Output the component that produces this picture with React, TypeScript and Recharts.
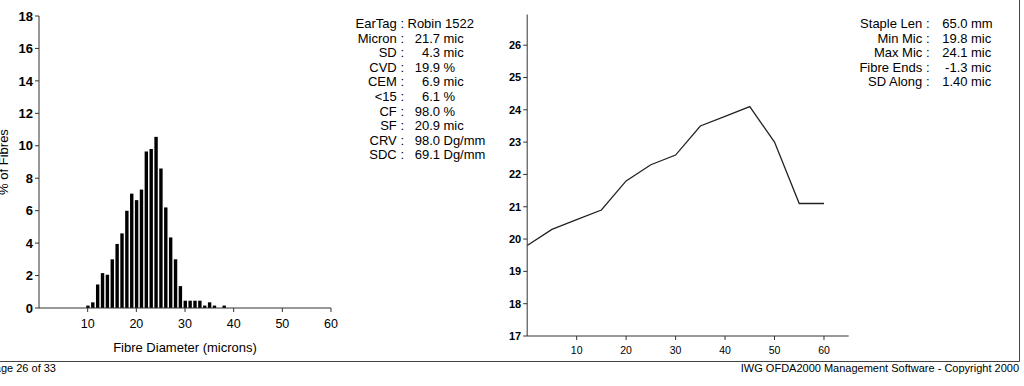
import { Bar, BarChart, Label, Line, LineChart, XAxis, YAxis } from "recharts";

const FONT = "'Liberation Sans', Arial, Helvetica, sans-serif";

// histogram: % of fibres per 1 micron class
const diameters = [10, 11, 12, 13, 14, 15, 16, 17, 18, 19, 20, 21, 22, 23, 24, 25, 26, 27, 28, 29, 30, 31, 32, 33, 34, 35, 36, 37, 38];
const fibrePct = [0.15, 0.35, 1.45, 2.15, 2.05, 3.0, 3.95, 4.6, 6.0, 7.05, 6.65, 7.3, 9.65, 9.8, 10.55, 8.6, 6.2, 4.35, 3.0, 1.35, 0.45, 0.45, 0.45, 0.45, 0.15, 0.35, 0.15, 0, 0.15];
const diameterTicks = [10, 20, 30, 40, 50, 60];
const pctTicks = [0, 2, 4, 6, 8, 10, 12, 14, 16, 18];

// profile along the staple (mm -> mic)
const staplePos = [0, 5, 10, 15, 20, 25, 30, 35, 40, 45, 50, 55, 60];
const micAlong = [19.8, 20.3, 20.6, 20.9, 21.8, 22.3, 22.6, 23.5, 23.8, 24.1, 23.0, 21.1, 21.1];
const staplePosTicks = [10, 20, 30, 40, 50, 60];
const micTicks = [17, 18, 19, 20, 21, 22, 23, 24, 25, 26];

const earTag = "Robin 1522";
const sampleLabels = ["Micron", "SD", "CVD", "CEM", "<15", "CF", "SF", "CRV", "SDC"];
const sampleValues = ["21.7", "4.3", "19.9", "6.9", "6.1", "98.0", "20.9", "98.0", "69.1"];
const sampleUnits = ["mic", "mic", "%", "mic", "%", "%", "mic", "Dg/mm", "Dg/mm"];

const stapleLabels = ["Staple Len", "Min Mic", "Max Mic", "Fibre Ends", "SD Along"];
const stapleValues = ["65.0", "19.8", "24.1", "-1.3", "1.40"];
const stapleUnits = ["mm", "mic", "mic", "mic", "mic"];

const histData = diameters.map((d, i) => ({ diameter: d, pct: fibrePct[i] }));
const profileData = staplePos.map((p, i) => ({ pos: p, mic: micAlong[i] }));

const axisStroke = { stroke: "#333" };
const ROW = 14.6;

export default function App() {
  return (
    <div
      style={{
        position: "fixed",
        left: 0,
        top: 0,
        width: 1024,
        height: 386,
        background: "#fff",
        overflow: "hidden",
        fontFamily: FONT,
      }}
    >
      <div style={{ position: "absolute", left: 0, top: 0 }}>
        <BarChart width={340} height={360} data={histData} margin={{ top: 16, right: 9, bottom: 0, left: 0 }}>
          <XAxis
            dataKey="diameter"
            type="number"
            domain={[0, 60]}
            ticks={diameterTicks}
            height={52}
            tickSize={4}
            tickMargin={7}
            axisLine={axisStroke}
            tickLine={axisStroke}
            tick={{ fontSize: 12.5, fill: "#000", fontFamily: FONT }}
          >
            <Label
              value="Fibre Diameter (microns)"
              position="insideBottom"
              offset={8.5}
              style={{ fontSize: 13, fill: "#000", fontFamily: FONT }}
            />
          </XAxis>
          <YAxis
            type="number"
            domain={[0, 18]}
            ticks={pctTicks}
            width={39}
            tickSize={4}
            tickMargin={2}
            axisLine={axisStroke}
            tickLine={axisStroke}
            tick={{ fontSize: 13, fill: "#000", fontWeight: "bold", fontFamily: FONT }}
          >
            <Label
              value="% of Fibres"
              angle={-90}
              position="center"
              dx={-16}
              style={{ fontSize: 13, fill: "#000", fontFamily: FONT }}
            />
          </YAxis>
          <Bar dataKey="pct" fill="#000" barSize={3.4} isAnimationActive={false} />
        </BarChart>
      </div>

      <div style={{ position: "absolute", left: 490, top: 0 }}>
        <LineChart width={370} height={360} data={profileData} margin={{ top: 14.5, right: 11.3, bottom: 0, left: 0 }}>
          <XAxis
            dataKey="pos"
            type="number"
            domain={[0, 65]}
            ticks={staplePosTicks}
            height={24}
            tickSize={4}
            tickMargin={6.5}
            axisLine={axisStroke}
            tickLine={axisStroke}
            tick={{ fontSize: 10.5, fill: "#000", fontFamily: FONT }}
          />
          <YAxis
            type="number"
            domain={[17, 26.95]}
            ticks={micTicks}
            width={37.2}
            tickSize={4}
            tickMargin={2}
            axisLine={axisStroke}
            tickLine={axisStroke}
            tick={{ fontSize: 11, fill: "#000", fontWeight: "bold", fontFamily: FONT }}
          />
          <Line type="linear" dataKey="mic" stroke="#222" strokeWidth={1.3} dot={false} isAnimationActive={false} />
        </LineChart>
      </div>

      <svg
        width={1024}
        height={386}
        style={{ position: "absolute", left: 0, top: 0, pointerEvents: "none" }}
        fontFamily={FONT}
        fill="#000"
      >
        {/* sample summary */}
        <text x={404} y={28} fontSize={13} textAnchor="end">
          EarTag :
        </text>
        <text x={407.5} y={28} fontSize={13}>
          {earTag}
        </text>
        {sampleLabels.map((l, i) => (
          <g key={l}>
            <text x={404} y={28 + (i + 1) * ROW} fontSize={13} textAnchor="end">
              {l} :
            </text>
            <text x={440} y={28 + (i + 1) * ROW} fontSize={13} textAnchor="end">
              {sampleValues[i]}
            </text>
            <text x={443.5} y={28 + (i + 1) * ROW} fontSize={13}>
              {sampleUnits[i]}
            </text>
          </g>
        ))}

        {/* staple summary */}
        {stapleLabels.map((l, i) => (
          <g key={l}>
            <text x={929.5} y={28 + i * ROW} fontSize={13} textAnchor="end">
              {l} :
            </text>
            <text x={967.5} y={28 + i * ROW} fontSize={13} textAnchor="end">
              {stapleValues[i]}
            </text>
            <text x={971} y={28 + i * ROW} fontSize={13}>
              {stapleUnits[i]}
            </text>
          </g>
        ))}

        {/* page frame + footer */}
        <line x1={0} y1={361.5} x2={1019.5} y2={361.5} stroke="#444" strokeWidth={1} />
        <line x1={1019.5} y1={0} x2={1019.5} y2={361.5} stroke="#444" strokeWidth={1} />
        <text x={56} y={372} fontSize={11} textAnchor="end">
          Page 26 of 33
        </text>
        <text x={1019} y={372} fontSize={11} textAnchor="end">
          IWG OFDA2000 Management Software - Copyright 2000
        </text>
      </svg>
    </div>
  );
}
